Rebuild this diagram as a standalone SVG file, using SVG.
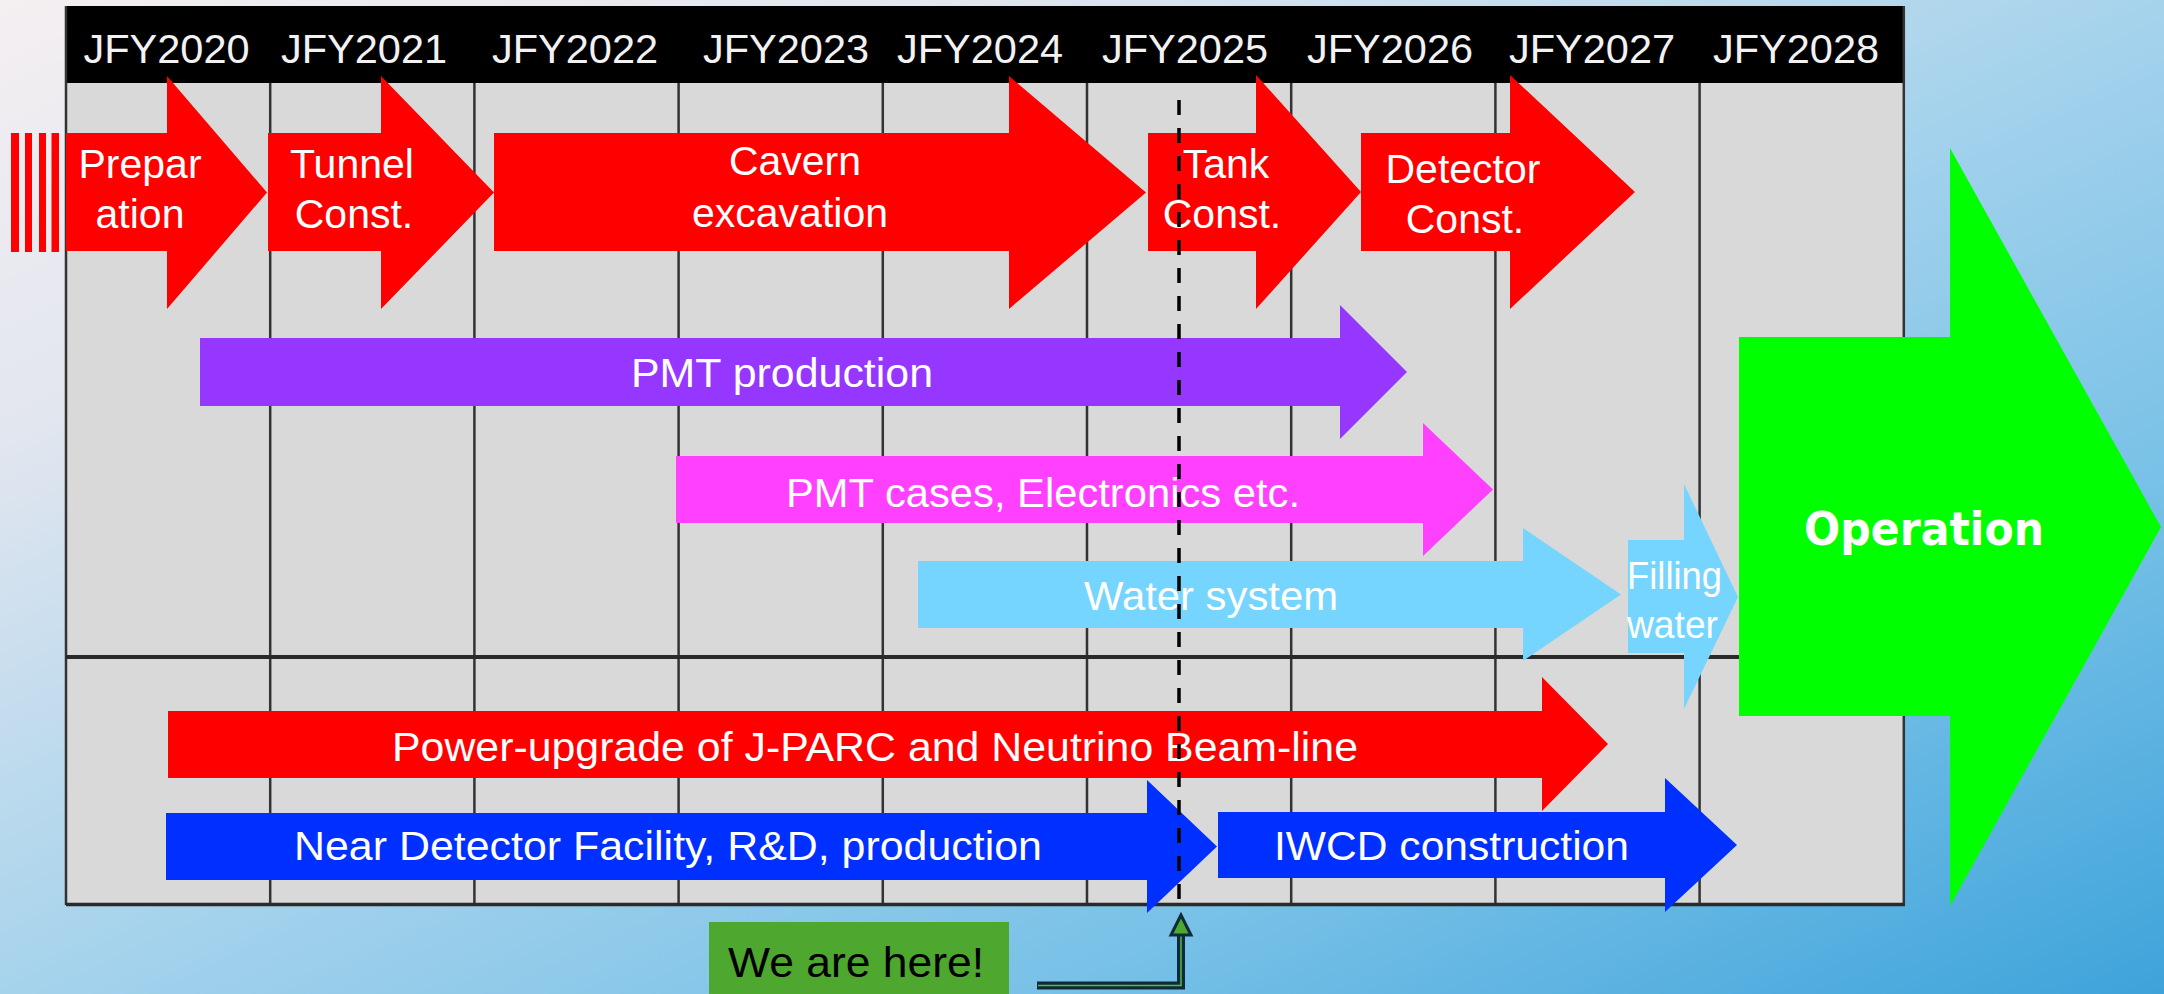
<svg xmlns="http://www.w3.org/2000/svg" width="2164" height="994" viewBox="0 0 2164 994">
<defs>
<linearGradient id="bg" gradientUnits="userSpaceOnUse" x1="0" y1="0" x2="753" y2="1642">
<stop offset="0" stop-color="#f4eff1"/>
<stop offset="0.22" stop-color="#e2e6ef"/>
<stop offset="0.5" stop-color="#a6d3ec"/>
<stop offset="0.75" stop-color="#76c0e7"/>
<stop offset="1" stop-color="#3ea3da"/>
</linearGradient>
</defs>
<style>
.hdr{font-family:"Liberation Sans",Arial,sans-serif;font-size:41.5px;fill:#f2f2f2;text-anchor:middle}
.t{font-family:"Liberation Sans",Arial,sans-serif;font-size:41px;fill:#ffffff;text-anchor:middle}
.tb{font-family:"Liberation Sans",Arial,sans-serif;font-size:40px;fill:#ffffff}
.gl{stroke:#333333;stroke-width:2.5;fill:none}
.red{fill:#ff0000}
</style>
<rect x="0" y="0" width="2164" height="994" fill="url(#bg)"/>

<g id="grid">
<rect x="66" y="83" width="1838" height="822" fill="#d9d9d9"/>
<rect x="66" y="6" width="1838" height="77" fill="#000000"/>
<path class="gl" d="M270.2,83V905M474.4,83V905M678.6,83V905M882.8,83V905M1087,83V905M1291.2,83V905M1495.4,83V905M1699.6,83V905M66,6V905M1903.8,6V905"/>
<path d="M66,657H1904" stroke="#2a2a2a" stroke-width="4"/>
<path d="M66,904.5H1905" stroke="#2a2a2a" stroke-width="3.5"/>
<text class="hdr" x="166.5" y="63">JFY2020</text>
<text class="hdr" x="364" y="63">JFY2021</text>
<text class="hdr" x="575" y="63">JFY2022</text>
<text class="hdr" x="786" y="63">JFY2023</text>
<text class="hdr" x="980" y="63">JFY2024</text>
<text class="hdr" x="1185" y="63">JFY2025</text>
<text class="hdr" x="1390" y="63">JFY2026</text>
<text class="hdr" x="1592" y="63">JFY2027</text>
<text class="hdr" x="1796" y="63">JFY2028</text>
</g>

<g id="stripes">
<rect class="red" x="11" y="133" width="8" height="119"/>
<rect class="red" x="25" y="133" width="7" height="119"/>
<rect class="red" x="39" y="133" width="7" height="119"/>
<rect class="red" x="51.5" y="133" width="7.5" height="119"/>
</g>

<g id="preparation">
<path class="red" d="M66,133H167V76L267,192.5L167,309V251H66Z"/>
<text class="t" x="140" y="178">Prepar</text>
<text class="t" x="140" y="228">ation</text>
</g>
<g id="tunnel">
<path class="red" d="M268,133H381V76L494,192.5L381,309V251H268Z"/>
<text class="t" x="352" y="178">Tunnel</text>
<text class="t" x="354" y="228">Const.</text>
</g>
<g id="cavern">
<path class="red" d="M494,133H1009V76L1146,192.5L1009,309V251H494Z"/>
<text class="t" x="795" y="175">Cavern</text>
<text class="t" x="790" y="227">excavation</text>
</g>
<g id="tank">
<path class="red" d="M1148,133H1256V75L1361,192L1256,309V251H1148Z"/>
<text class="t" x="1226" y="178">Tank</text>
<text class="t" x="1222" y="228">Const.</text>
</g>
<g id="detector">
<path class="red" d="M1361,133H1510V75L1635,192L1510,309V251H1361Z"/>
<text class="t" x="1463" y="183">Detector</text>
<text class="t" x="1465" y="233">Const.</text>
</g>

<g id="pmt-production">
<path fill="#9537ff" d="M200,338H1340V305L1407,372L1340,439V406H200Z"/>
<text class="tb" x="631" y="387" textLength="302" lengthAdjust="spacingAndGlyphs">PMT production</text>
</g>
<g id="pmt-cases">
<path fill="#ff40ff" d="M676,456H1423V423L1493,489.5L1423,556V523H676Z"/>
<text class="tb" x="786" y="507" textLength="514" lengthAdjust="spacingAndGlyphs">PMT cases, Electronics etc.</text>
</g>
<g id="water-system">
<path fill="#75d5ff" d="M918,561H1523V528L1621,594.5L1523,661V628H918Z"/>
<text class="tb" x="1084" y="610" textLength="254" lengthAdjust="spacingAndGlyphs">Water system</text>
</g>
<g id="filling-water">
<path fill="#75d5ff" d="M1628,540H1684V484L1738,597L1684,709V653H1628Z"/>
<text class="tb" x="1627" y="589" style="font-size:38px" textLength="95" lengthAdjust="spacingAndGlyphs">Filling</text>
<text class="tb" x="1627" y="638" style="font-size:38px" textLength="91" lengthAdjust="spacingAndGlyphs">water</text>
</g>
<g id="operation">
<path fill="#00ff00" d="M1739,337H1950V148L2161,527L1950,906V716H1739Z"/>
<text x="1804" y="545" font-family="'DejaVu Sans',Verdana,sans-serif" font-weight="bold" font-size="47" fill="#ffffff" textLength="240" lengthAdjust="spacingAndGlyphs">Operation</text>
</g>
<g id="power-upgrade">
<path class="red" d="M168,711H1542V677L1608,744L1542,811V778H168Z"/>
<text class="tb" x="392" y="761" textLength="966" lengthAdjust="spacingAndGlyphs">Power-upgrade of J-PARC and Neutrino  Beam-line</text>
</g>
<g id="near-detector">
<path fill="#0030ff" d="M166,813H1147V780L1217,846.5L1147,913V880H166Z"/>
<text class="tb" x="294" y="860" textLength="748" lengthAdjust="spacingAndGlyphs">Near Detector Facility, R&amp;D, production</text>
</g>
<g id="iwcd">
<path fill="#0030ff" d="M1218,812H1665V778L1737,845L1665,912V878H1218Z"/>
<text class="tb" x="1274" y="860" textLength="355" lengthAdjust="spacingAndGlyphs">IWCD construction</text>
</g>

<g id="we-are-here">
<rect x="709" y="922" width="300" height="72" fill="#4ea72e"/>
<text x="728" y="977" font-family="'Liberation Sans',Arial,sans-serif" font-size="42" fill="#000000" textLength="256" lengthAdjust="spacingAndGlyphs">We are here!</text>
</g>

<g id="connectors">
<path d="M1179,100V906" stroke="#000000" stroke-width="3.5" stroke-dasharray="15 13" fill="none"/>
<path d="M1037,985.5H1181V934" stroke="#0e2b3a" stroke-width="8" fill="none" stroke-linejoin="miter"/>
<path d="M1038,985.5H1181V934" stroke="#59b848" stroke-width="1.5" fill="none"/>
<polygon points="1181,915 1171,935 1191,935" fill="#4ea72e" stroke="#0e2b3a" stroke-width="3"/>
</g>
</svg>
